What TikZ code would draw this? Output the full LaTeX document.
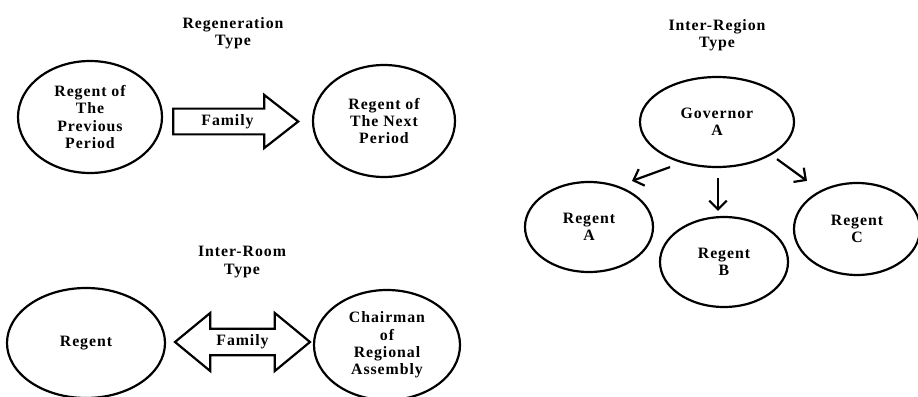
\documentclass[tikz,border=0pt]{standalone}
\usepackage{fontspec}
\setmainfont{Liberation Serif}[LetterSpace=6]
\usetikzlibrary{shapes.geometric, shapes.arrows, arrows.meta}

\begin{document}
\begin{tikzpicture}[line width=1.25pt, font=\bfseries\fontsize{9}{9.8}\selectfont,
  oval/.style={draw, ellipse, inner sep=0pt, align=center},
  heading/.style={align=center},
  onearrow/.style={draw, single arrow, inner sep=2pt, minimum height=2.5cm,
    minimum width=1.06cm, single arrow head extend=0.25cm, single arrow tip angle=76},
  twoarrow/.style={draw, double arrow, inner sep=2pt, minimum height=2.7cm,
    minimum width=1.16cm, double arrow head extend=0.28cm, double arrow tip angle=79},
  pointer/.style={-{Straight Barb[length=5pt,width=10pt]}}]%
  \useasboundingbox (0,0) rectangle (18.36,-7.94);

  % regeneration type
  \node[heading] (regentitle) at (4.66,-0.66) {Regeneration\\Type};
  \node[oval, minimum width=2.88cm, minimum height=2.24cm] (previous) at (1.8,-2.34)
    {Regent of\\The\\Previous\\Period};
  \node[oval, minimum width=2.84cm, minimum height=2.24cm] (next) at (7.68,-2.42)
    {Regent of\\The Next\\Period};
  \node[onearrow] (passon) at (4.55,-2.43) {Family};

  % inter-room type
  \node[heading] (roomtitle) at (4.84,-5.24) {Inter-Room\\Type};
  \node[oval, minimum width=3.16cm, minimum height=2.2cm] (regent) at (1.72,-6.86) {Regent};
  \node[oval, minimum width=2.92cm, minimum height=2.2cm] (chairman) at (7.74,-6.9)
    {Chairman\\of\\Regional\\Assembly};
  \node[twoarrow] (tie) at (4.85,-6.84) {Family};

  % inter-region type
  \node[heading] (regiontitle) at (14.34,-0.7) {Inter-Region\\Type};
  \node[oval, minimum width=3.08cm, minimum height=1.8cm] (governor) at (14.34,-2.44) {Governor\\A};
  \node[oval, minimum width=2.56cm, minimum height=1.8cm] (regenta) at (11.78,-4.54) {Regent\\A};
  \node[oval, minimum width=2.56cm, minimum height=1.8cm] (regentb) at (14.48,-5.24) {Regent\\B};
  \node[oval, minimum width=2.52cm, minimum height=1.84cm] (regentc) at (17.14,-4.58) {Regent\\C};

  \draw[pointer] ([xshift=-0.94cm,yshift=0.02cm]governor.south) -- ([xshift=0.86cm]regenta.north);
  \draw[pointer] ([xshift=0.02cm,yshift=-0.2cm]governor.south) -- ([xshift=-0.12cm,yshift=0.1cm]regentb.north);
  \draw[pointer] ([xshift=1.2cm,yshift=0.18cm]governor.south) -- ([xshift=-1cm,yshift=0.02cm]regentc.north);
\end{tikzpicture}
\end{document}
